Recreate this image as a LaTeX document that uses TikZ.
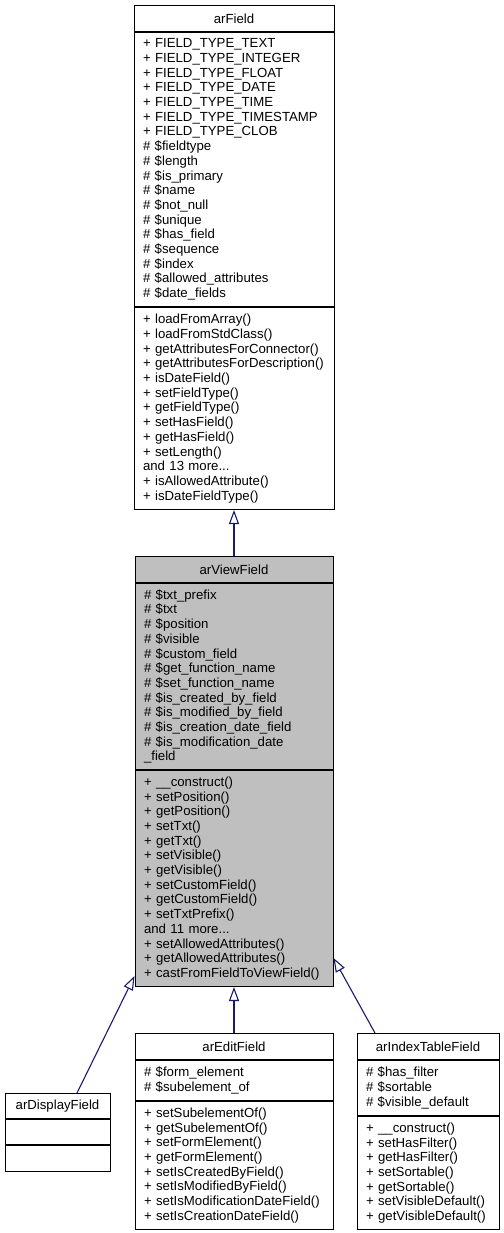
\documentclass[tikz,border=0pt]{standalone}
\usepackage{fontspec}
\setmainfont{Liberation Sans}
\usepackage{tikz}
\usetikzlibrary{arrows.meta,positioning}
\definecolor{EdgeBlue}{HTML}{191970}
\definecolor{ViewGray}{HTML}{BFBFBF}
\tikzset{
  classbox/.style={rectangle,draw=black,line width=1pt,fill=white,inner xsep=9pt,inner ysep=3pt,align=left,font=\fontsize{13.2}{14.7}\selectfont},
  classtitle/.style={classbox,align=center,minimum height=26pt},
  current/.style={fill=ViewGray},
  inherit/.style={-{Triangle[open,length=14pt,width=10pt]},line width=1.1pt,color=EdgeBlue},
}

\begin{document}
\begin{tikzpicture}[x=1pt,y=-1pt]
  \useasboundingbox (0,0) rectangle (503,1233);

  % base class
  \node[classtitle, text width=182pt, anchor=north] (ftitle) at (234,5) {arField};
  \node[classbox, text width=182pt, minimum height=274pt, below=0pt of ftitle] (fattr)
    {+ FIELD\_TYPE\_TEXT\\+ FIELD\_TYPE\_INTEGER\\+ FIELD\_TYPE\_FLOAT\\+ FIELD\_TYPE\_DATE\\+ FIELD\_TYPE\_TIME\\+ FIELD\_TYPE\_TIMESTAMP\\+ FIELD\_TYPE\_CLOB\\\# \$fieldtype\\\# \$length\\\# \$is\_primary\\\# \$name\\\# \$not\_null\\\# \$unique\\\# \$has\_field\\\# \$sequence\\\# \$index\\\# \$allowed\_attributes\\\# \$date\_fields};
  \node[classbox, text width=182pt, minimum height=202pt, below=0pt of fattr] (fmeth)
    {+ loadFromArray()\\+ loadFromStdClass()\\+ getAttributesForConnector()\\+ getAttributesForDescription()\\+ isDateField()\\+ setFieldType()\\+ getFieldType()\\+ setHasField()\\+ getHasField()\\+ setLength()\\and 13 more...\\+ isAllowedAttribute()\\+ isDateFieldType()};

  % this class
  \node[classtitle, current, text width=180pt, anchor=north] (vtitle) at (234,556) {arViewField};
  \node[classbox, current, text width=180pt, minimum height=186pt, below=0pt of vtitle] (vattr)
    {\# \$txt\_prefix\\\# \$txt\\\# \$position\\\# \$visible\\\# \$custom\_field\\\# \$get\_function\_name\\\# \$set\_function\_name\\\# \$is\_created\_by\_field\\\# \$is\_modified\_by\_field\\\# \$is\_creation\_date\_field\\\# \$is\_modification\_date\\\_field};
  \node[classbox, current, text width=180pt, minimum height=216pt, below=0pt of vattr] (vmeth)
    {+ \_\_construct()\\+ setPosition()\\+ getPosition()\\+ setTxt()\\+ getTxt()\\+ setVisible()\\+ getVisible()\\+ setCustomField()\\+ getCustomField()\\+ setTxtPrefix()\\and 11 more...\\+ setAllowedAttributes()\\+ getAllowedAttributes()\\+ castFromFieldToViewField()};

  % derived classes
  \node[classtitle, text width=87pt, minimum height=25pt, anchor=north] (dtitle) at (57.5,1093) {arDisplayField};
  \node[classbox, text width=87pt, minimum height=25pt, below=0pt of dtitle] (dattr) {};
  \node[classbox, text width=87pt, minimum height=26pt, below=0pt of dattr] (dmeth) {};

  \node[classtitle, text width=180pt, anchor=north] (etitle) at (234,1033) {arEditField};
  \node[classbox, text width=180pt, minimum height=40pt, below=0pt of etitle] (eattr)
    {\# \$form\_element\\\# \$subelement\_of};
  \node[classbox, text width=180pt, minimum height=128pt, below=0pt of eattr] (emeth)
    {+ setSubelementOf()\\+ getSubelementOf()\\+ setFormElement()\\+ getFormElement()\\+ setIsCreatedByField()\\+ setIsModifiedByField()\\+ setIsModificationDateField()\\+ setIsCreationDateField()};

  \node[classtitle, text width=124pt, anchor=north] (ititle) at (428,1033) {arIndexTableField};
  \node[classbox, text width=124pt, minimum height=55pt, below=0pt of ititle] (iattr)
    {\# \$has\_filter\\\# \$sortable\\\# \$visible\_default};
  \node[classbox, text width=124pt, minimum height=113pt, below=0pt of iattr] (imeth)
    {+ \_\_construct()\\+ setHasFilter()\\+ getHasFilter()\\+ setSortable()\\+ getSortable()\\+ setVisibleDefault()\\+ getVisibleDefault()};

  % inheritance
  \draw[inherit] (vtitle) -- (fmeth);
  \draw[inherit] ([xshift=19.5pt]dtitle.north) -- ([yshift=11pt]vmeth.south west);
  \draw[inherit] (etitle) -- (vmeth);
  \draw[inherit] ([xshift=-53pt]ititle.north) -- ([yshift=29pt]vmeth.south east);
\end{tikzpicture}
\end{document}
